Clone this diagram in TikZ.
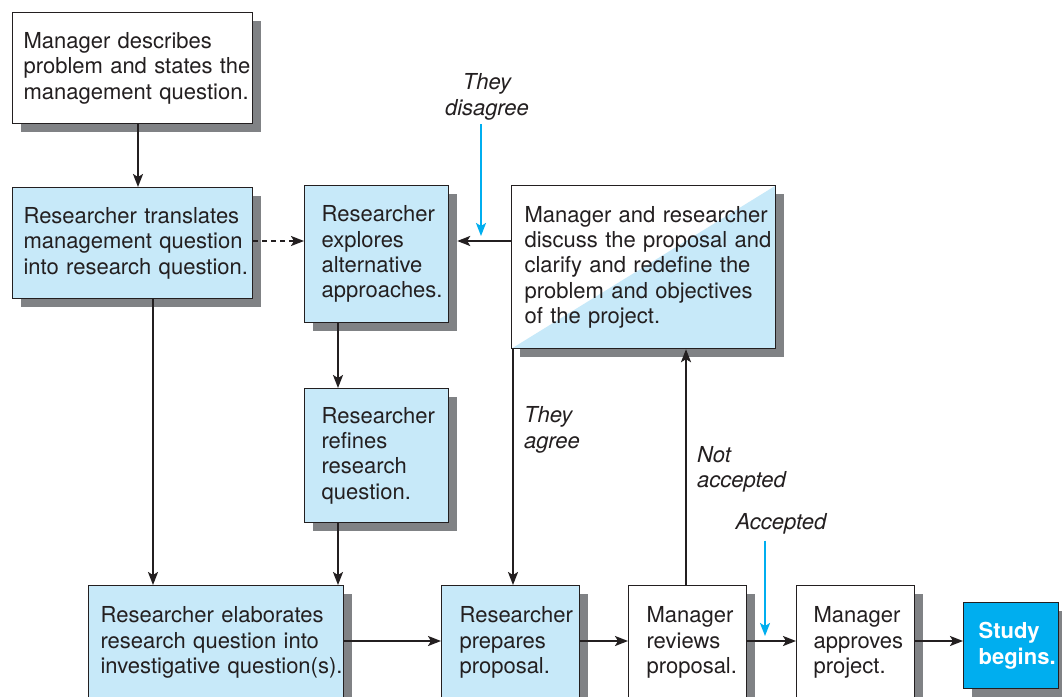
\documentclass[tikz,border=0pt]{standalone}
\usepackage{fontspec}
\setmainfont{TeX Gyre Heros}
\usetikzlibrary{arrows.meta,shadows,calc}
\definecolor{lb}{RGB}{199,233,249}
\definecolor{shg}{RGB}{128,130,133}
\definecolor{cy}{RGB}{0,174,239}
\definecolor{dk}{RGB}{35,31,32}
\newcommand\mypad[1]{\leftskip=#1pt\rightskip=-40pt plus 1fil\hyphenpenalty=10000\relax}
\begin{document}
\begin{tikzpicture}[x=1pt,y=-1pt,
  font=\fontsize{22}{25.3}\selectfont,
  box/.style={draw=dk, line width=1.2pt, anchor=north west, inner xsep=0pt, inner ysep=0pt,
    align=left, text=dk,
    drop shadow={shadow xshift=8pt,shadow yshift=-8pt,opacity=1,fill=shg}},
  blue/.style={box, fill=lb},
  white/.style={box, fill=white},
  arr/.style={draw=dk, line width=2pt, -{Stealth[length=13pt,width=10pt,inset=3pt]}},
  barr/.style={draw=cy, line width=2pt, -{Stealth[length=13pt,width=10pt,inset=3pt]}},
  lab/.style={font=\fontsize{22}{25.3}\selectfont\itshape, text=dk, inner sep=0pt}]
\useasboundingbox (0,0) rectangle (1062,696);
\fill[white] (-10,-10) rectangle (1072,706);
\clip (-2,-2) rectangle (1064,698);

\node[white, text width=240pt, minimum height=111pt] (b1) at (12,12)
  {\mypad{11}Manager describes\\problem and states the\\management question.\par};
\node[blue, text width=240pt, minimum height=111pt] (b2) at (12,187)
  {\mypad{11}Researcher translates\\management question\\into research question.\par};
\node[blue, text width=144pt, minimum height=137pt] (b3) at (304,185)
  {\mypad{17}Researcher\\explores\\alternative\\approaches.\par};
\node[white, text width=264pt, minimum height=163pt,
  path picture={\fill[lb] (path picture bounding box.south west) -- (path picture bounding box.north east) -- (path picture bounding box.south east) -- cycle;}]
  (b4) at (511,185)
  {\mypad{13}Manager and researcher\\discuss the proposal and\\clarify and redefine the\\problem and objectives\\of the project.\par};
\node[blue, text width=144pt, minimum height=134pt] (b5) at (304,388)
  {\mypad{17}Researcher\\refines\\research\\question.\par};
\node[blue, text width=255pt, minimum height=114pt] (b6) at (88,585)
  {\mypad{12}Researcher elaborates\\research question into\\investigative question(s).\par};
\node[blue, text width=138pt, minimum height=114pt] (b7) at (441,585)
  {\mypad{18}Researcher\\prepares\\proposal.\par};
\node[white, text width=118pt, minimum height=114pt] (b8) at (628,585)
  {\mypad{18}Manager\\reviews\\proposal.\par};
\node[white, text width=118pt, minimum height=114pt] (b9) at (796,585)
  {\mypad{17}Manager\\approves\\project.\par};
\node[box, fill=cy, text=white, font=\fontsize{22}{25.3}\selectfont\bfseries,
  text width=95pt, minimum height=86pt] (b10) at (963,602)
  {\mypad{15}Study\\begins.\par};

% labels
\node[lab, align=center] (dis) at (487,97) {They\\disagree};
\node[lab, align=left, anchor=west] (agr) at (524,430) {They\\agree};
\node[lab, align=left, anchor=west] (nac) at (697,469) {Not\\accepted};
\node[lab] (acc) at (781,524) {Accepted};
\coordinate (dtip) at (481,236);
\coordinate (atip) at (765,636);

% connectors
\draw[arr] ($(b1.south west)+(126,0)$) -- ($(b2.north west)+(126,0)$);
\draw[arr, dash pattern=on 5pt off 4pt] ($(b2.north east)+(0,54)$) -- ($(b3.north west)+(0,56)$);
\draw[arr] ($(b4.north west)+(0,56)$) -- ($(b3.north east)+(8,56)$);
\draw[barr] ($(dis.south)+(-6,4)$) -- (dtip);
\draw[arr] ($(b3.south west)+(34,0)$) -- ($(b5.north west)+(34,0)$);
\draw[arr] ($(b5.south west)+(34,0)$) -- ($(b6.north west)+(250,0)$);
\draw[arr] ($(b2.south west)+(141,0)$) -- ($(b6.north west)+(65,0)$);
\draw[arr] ($(b4.south west)+(2,0)$) -- ($(b7.north west)+(72,0)$);
\draw[arr] ($(b8.north west)+(58,0)$) -- ($(b4.south west)+(175,0)$);
\draw[arr] ($(b6.north east)+(0,56)$) -- ($(b7.north west)+(0,56)$);
\draw[arr] ($(b7.north east)+(0,56)$) -- ($(b8.north west)+(0,56)$);
\draw[arr] ($(b8.north east)+(0,56)$) -- ($(b9.north west)+(0,56)$);
\draw[arr] ($(b9.north east)+(0,56)$) -- ($(b10.north west)+(0,39)$);
\draw[barr] ($(acc.south)+(-16,6)$) -- (atip);
\end{tikzpicture}
\end{document}
